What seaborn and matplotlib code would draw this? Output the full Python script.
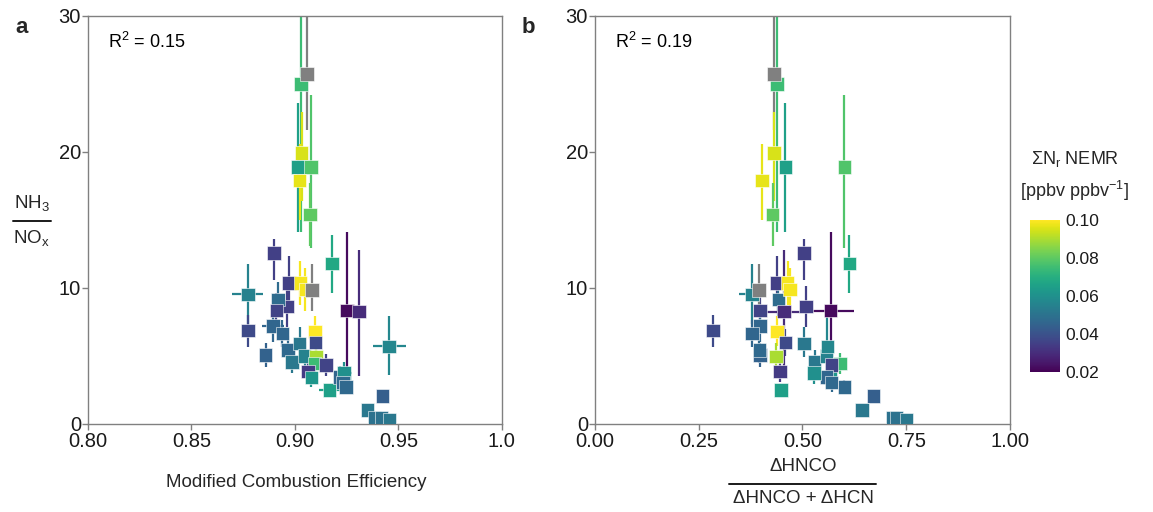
import numpy as np
import pandas as pd
import matplotlib
matplotlib.use("Agg")
from matplotlib import pyplot as plt
from matplotlib.lines import Line2D
import seaborn as sns

# NH3/NOx ratio for each fire, with error extents
nh3_nox = [25.7, 25.0, 19.9, 18.9, 18.9, 17.9, 15.4, 12.56, 11.8, 9.53,
           6.88, 5.05, 10.37, 8.65, 9.14, 8.33, 7.2, 6.65, 5.45, 4.55,
           5.9, 5.0, 10.37, 9.88, 9.88, 6.8, 6.0, 4.96, 4.45, 3.86,
           3.4, 4.35, 2.5, 3.45, 3.73, 3.05, 2.7, 5.7, 2.06, 1.03,
           0.47, 0.42, 0.34, 8.33, 8.26]
nh3_lo = [4.1, 10.9, 3.5, 4.8, 6.0, 2.9, 2.3, 2.0, 2.2, 2.2,
          1.2, 0.9, 1.5, 1.5, 1.3, 1.2, 1.2, 1.0, 1.0, 0.8,
          1.0, 1.0, 1.6, 1.6, 1.6, 1.1, 1.0, 1.0, 0.8, 0.8,
          0.7, 0.8, 0.3, 0.8, 0.8, 0.7, 0.5, 2.1, 0.3, 0.2,
          0.1, 0.1, 0.1, 4.4, 4.7]
nh3_hi = [8.0, 10.0, 3.0, 4.7, 5.3, 2.7, 2.3, 1.0, 2.1, 2.2,
          1.1, 0.9, 2.0, 1.5, 1.3, 1.3, 1.2, 1.0, 1.0, 0.9,
          1.2, 1.0, 1.6, 1.6, 1.9, 1.1, 1.0, 1.0, 0.8, 0.8,
          0.7, 0.8, 0.3, 0.8, 0.8, 0.7, 0.5, 2.2, 0.3, 0.2,
          0.1, 0.1, 0.1, 5.8, 4.5]

# modified combustion efficiency
mce = [0.9058, 0.9030, 0.9032, 0.9016, 0.9077, 0.9023, 0.9073, 0.8900, 0.9180, 0.8773,
       0.8773, 0.8858, 0.8971, 0.8963, 0.8918, 0.8910, 0.8894, 0.8939, 0.8966, 0.8985,
       0.9023, 0.9047, 0.9026, 0.9050, 0.9082, 0.9098, 0.9100, 0.9103, 0.9095, 0.9063,
       0.9079, 0.9151, 0.9167, 0.9216, 0.9237, 0.9232, 0.9248, 0.9455, 0.9422, 0.9350,
       0.9385, 0.9418, 0.9458, 0.9251, 0.9310]
mce_err = [0.001, 0.001, 0.001, 0.0015, 0.001, 0.001, 0.001, 0.001, 0.001, 0.0075,
           0.003, 0.001, 0.001, 0.001, 0.001, 0.001, 0.0055, 0.001, 0.003, 0.002,
           0.001, 0.002, 0.001, 0.001, 0.002, 0.001, 0.001, 0.001, 0.001, 0.001,
           0.001, 0.002, 0.005, 0.001, 0.004, 0.001, 0.001, 0.008, 0.001, 0.001,
           0.001, 0.001, 0.001, 0.002, 0.002]

# dHNCO / (dHNCO + dHCN)
hnco_frac = [0.431, 0.439, 0.431, 0.459, 0.601, 0.403, 0.428, 0.503, 0.613, 0.378,
             0.284, 0.398, 0.438, 0.508, 0.442, 0.398, 0.398, 0.378, 0.396, 0.529,
             0.503, 0.558, 0.464, 0.470, 0.396, 0.439, 0.459, 0.436, 0.590, 0.446,
             0.566, 0.570, 0.448, 0.558, 0.528, 0.570, 0.601, 0.560, 0.671, 0.643,
             0.717, 0.727, 0.751, 0.568, 0.455]
frac_err = [0.004] * 9 + [0.03] + [0.004] * 33 + [0.055, 0.04]

# sum Nr NEMR (colour), nan = not available
nr_nemr = [np.nan, 0.075, 0.095, 0.065, 0.078, 0.097, 0.080, 0.035, 0.068, 0.055,
           0.038, 0.045, 0.035, 0.035, 0.048, 0.036, 0.046, 0.046, 0.047, 0.052,
           0.052, 0.055, 0.099, 0.099, np.nan, 0.100, 0.038, 0.090, 0.075, 0.034,
           0.062, 0.036, 0.065, 0.046, 0.060, 0.047, 0.047, 0.057, 0.044, 0.052,
           0.050, 0.050, 0.052, 0.022, 0.030]

df = pd.DataFrame({"ratio": nh3_nox, "lo": nh3_lo, "hi": nh3_hi, "mce": mce, "mce_err": mce_err,
                   "frac": hnco_frac, "frac_err": frac_err, "nemr": nr_nemr})

sns.set_style("white")
plt.rcParams["font.family"] = ["Liberation Sans", "DejaVu Sans"]
plt.rcParams["mathtext.default"] = "regular"

cmap = plt.get_cmap("viridis")
norm = plt.Normalize(0.02, 0.10)
grey = "#808080"

fig = plt.figure(figsize=(11.53, 5.12), dpi=100)
ax_a = fig.add_axes([0.0763, 0.172, 0.359, 0.797])
ax_b = fig.add_axes([0.516, 0.172, 0.360, 0.797])


def panel(ax, xcol, xerrcol, xlim, xticks, xticklabels, r2):
    # error bars first, squares on top
    for _, r in df.iterrows():
        col = grey if np.isnan(r["nemr"]) else cmap(norm(r["nemr"]))
        ax.errorbar(r[xcol], r["ratio"], yerr=[[r["lo"]], [r["hi"]]], xerr=r[xerrcol],
                    fmt="none", ecolor=col, elinewidth=1.6, capsize=0, zorder=2)
    ok = df[df["nemr"].notna()]
    sns.scatterplot(data=ok, x=xcol, y="ratio", hue="nemr", palette="viridis", hue_norm=(0.02, 0.10),
                    marker="s", s=95, edgecolor="white", linewidth=0.4, legend=False, ax=ax, zorder=3)
    sns.scatterplot(data=df[df["nemr"].isna()], x=xcol, y="ratio", color=grey,
                    marker="s", s=95, edgecolor="white", linewidth=0.4, legend=False, ax=ax, zorder=3)
    ax.set_xlim(*xlim)
    ax.set_ylim(0, 30)
    ax.set_xticks(xticks)
    ax.set_xticklabels(xticklabels)
    ax.set_yticks([0, 10, 20, 30])
    ax.set_xlabel("")
    ax.set_ylabel("")
    for s in ax.spines.values():
        s.set_color(grey)
        s.set_linewidth(1.0)
    ax.tick_params(axis="both", direction="out", length=4, width=1, color=grey,
                   labelsize=14.5, labelcolor="#1a1a1a", pad=1, left=True, bottom=True)
    ax.tick_params(axis="x", pad=2)
    ax.text(0.048, 0.936, r"R$^{2}$ = " + r2, transform=ax.transAxes, fontsize=13,
            va="center", ha="left", color="black")


panel(ax_a, "mce", "mce_err", (0.80, 1.0), [0.80, 0.85, 0.90, 0.95, 1.0],
      ["0.80", "0.85", "0.90", "0.95", "1.0"], "0.15")
panel(ax_b, "frac", "frac_err", (0.0, 1.0), [0.0, 0.25, 0.5, 0.75, 1.0],
      ["0.00", "0.25", "0.50", "0.75", "1.00"], "0.19")

# panel letters
fig.text(0.013, 0.947, "a", fontsize=16, fontweight="bold", va="center")
fig.text(0.452, 0.947, "b", fontsize=16, fontweight="bold", va="center")

# y label as fraction
fig.text(0.0275, 0.603, "NH$_3$", fontsize=13.5, ha="center", va="center")
fig.add_artist(Line2D([0.011, 0.044], [0.569, 0.569], color="#1a1a1a", lw=1.4))
fig.text(0.0275, 0.535, "NO$_x$", fontsize=13.5, ha="center", va="center")

# x labels
fig.text(0.2567, 0.057, "Modified Combustion Efficiency", fontsize=13.5, ha="center", va="center")
fig.text(0.6965, 0.088, "ΔHNCO", fontsize=13.5, ha="center", va="center")
fig.add_artist(Line2D([0.632, 0.760], [0.0547, 0.0547], color="#1a1a1a", lw=1.4))
fig.text(0.6965, 0.026, "ΔHNCO + ΔHCN", fontsize=13.5, ha="center", va="center")

# colour bar
cax = fig.add_axes([0.8935, 0.273, 0.026, 0.297])
sm = plt.cm.ScalarMappable(norm=norm, cmap=cmap)
cb = fig.colorbar(sm, cax=cax, ticks=[0.02, 0.04, 0.06, 0.08, 0.10])
cb.ax.set_yticklabels(["0.02", "0.04", "0.06", "0.08", "0.10"])
cb.outline.set_visible(False)
cax.tick_params(axis="y", direction="in", length=5, width=0.8, color="white",
                labelsize=12.5, labelcolor="#1a1a1a", left=True, right=True, pad=4)
fig.text(0.932, 0.69, "Σ$\\mathregular{N_r}$ NEMR", fontsize=13, ha="center", va="center")
fig.text(0.932, 0.628, "[ppbv ppbv$^{-1}$]", fontsize=13, ha="center", va="center")

fig.savefig("out.png", dpi=100)
